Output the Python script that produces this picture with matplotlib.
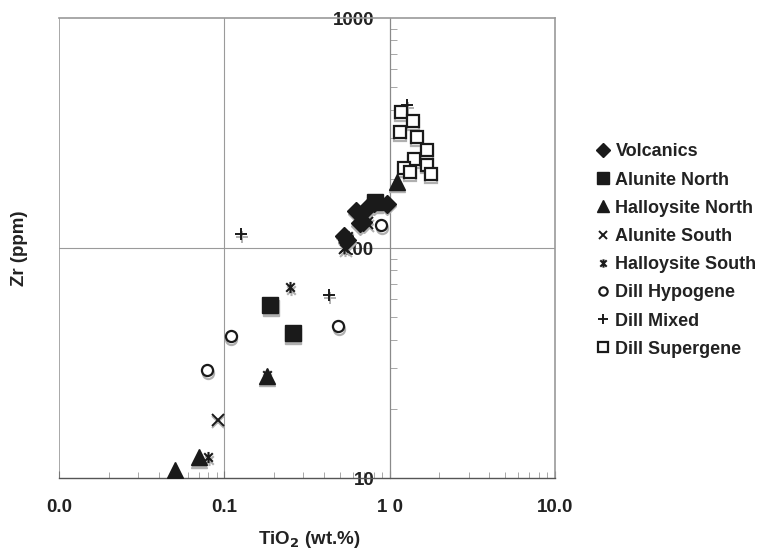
import matplotlib
matplotlib.use('Agg')
import matplotlib.pyplot as plt
import matplotlib.transforms as mtrans
from matplotlib.path import Path

plt.rcParams['font.family'] = ['Liberation Sans', 'DejaVu Sans']

# TiO2 (wt.%) and Zr (ppm)
volc_x = [0.53, 0.55, 0.63, 0.66, 0.69, 0.73, 0.80, 0.96]
volc_y = [113, 108, 145, 128, 130, 150, 157, 156]
aln_x = [0.19, 0.26, 0.81]
aln_y = [56.5, 42.7, 158]
hln_x = [0.050, 0.070, 0.18, 1.10]
hln_y = [10.8, 12.3, 27.8, 194]
als_x = [0.091, 0.54, 0.73]
als_y = [17.9, 100, 128]
hls_x = [0.080, 0.18, 0.25, 0.53, 0.56]
hls_y = [12.3, 28, 67.7, 100, 113]
hyp_x = [0.079, 0.109, 0.49, 0.89]
hyp_y = [29.5, 41.4, 45.8, 126]
mix_x = [0.127, 0.43, 1.28]
mix_y = [115, 62.5, 418]
sup_x = [1.17, 1.38, 1.15, 1.46, 1.68, 1.40, 1.22, 1.32, 1.68, 1.77]
sup_y = [390, 357, 319, 304, 267, 244, 223, 214, 230, 210]

# excel-style asterisk: an x with a vertical bar
star = Path([(-1, -1), (1, 1), (-1, 1), (1, -1), (0, -1.3), (0, 1.3)],
            [Path.MOVETO, Path.LINETO] * 3)

ink = '#1a1a1a'
series = [
    ('Volcanics', volc_x, volc_y, dict(marker='D', ms=9, mfc=ink, mec=ink)),
    ('Alunite North', aln_x, aln_y, dict(marker='s', ms=11, mfc=ink, mec=ink)),
    ('Halloysite North', hln_x, hln_y, dict(marker='^', ms=12, mfc=ink, mec=ink)),
    ('Alunite South', als_x, als_y, dict(marker='x', ms=8, mec=ink, mew=1.4)),
    ('Halloysite South', hls_x, hls_y, dict(marker=star, ms=8, mec=ink, mew=1.5)),
    ('Dill Hypogene', hyp_x, hyp_y, dict(marker='o', ms=8, mfc='white', mec=ink, mew=1.6)),
    ('Dill Mixed', mix_x, mix_y, dict(marker='+', ms=9, mec=ink, mew=1.4)),
    ('Dill Supergene', sup_x, sup_y, dict(marker='s', ms=9, mfc='white', mec=ink, mew=1.6)),
]

fig = plt.figure(figsize=(7.63, 5.52), dpi=100)
ax = fig.add_axes([0.0773, 0.134, 0.6501, 0.833])
ax.set_xscale('log')
ax.set_yscale('log')
ax.set_xlim(0.01, 10)
ax.set_ylim(10, 1000)

# gray drop shadow under each marker, as in the scanned figure
shadow = mtrans.offset_copy(ax.transData, fig=fig, x=0.5, y=-2.5, units='dots')
for name, xs, ys, st in series:
    sh = dict(st)
    sh['mec'] = '#b0b0b0'
    if sh.get('mfc') not in (None, 'white'):
        sh['mfc'] = '#b0b0b0'
    ax.plot(xs, ys, ls='none', transform=shadow, zorder=3, **sh)
for name, xs, ys, st in series:
    ax.plot(xs, ys, ls='none', zorder=4, **st)

# grid lines and box
ax.axvline(0.1, color='#9a9a9a', lw=0.8, zorder=1)
ax.axhline(100, color='#9a9a9a', lw=0.8, zorder=1)
ax.axvline(0.01, color='#9a9a9a', lw=1.2, zorder=1)
for s in ['top', 'right']:
    ax.spines[s].set_color('#9a9a9a')
    ax.spines[s].set_linewidth(1.2)
ax.spines['left'].set_position(('data', 1))
ax.spines['left'].set_color('#8a8a8a')
ax.spines['left'].set_linewidth(0.9)
ax.spines['bottom'].set_color('#555555')
ax.spines['bottom'].set_linewidth(1.0)

ax.set_xticks([0.01, 0.1, 1, 10])
ax.set_xticklabels(['0.0', '0.1', '1 0', '10.0'])
ax.set_yticks([10, 100, 1000])
ax.set_yticklabels(['10', '100', '1000'])
ax.tick_params(axis='x', which='major', direction='in', length=5, pad=15,
               labelsize=13.5, color='#777777')
ax.tick_params(axis='x', which='minor', direction='in', length=4, color='#999999')
ax.tick_params(axis='y', which='major', direction='in', length=0, pad=11,
               labelsize=13.5, color='#777777')
ax.tick_params(axis='y', which='minor', direction='in', length=5, color='#999999')
ax.yaxis.set_minor_formatter(matplotlib.ticker.NullFormatter())
ax.xaxis.set_minor_formatter(matplotlib.ticker.NullFormatter())
for t in ax.get_xticklabels() + ax.get_yticklabels():
    t.set_fontweight('bold')
    t.set_color('#222222')

fig.text(0.026, 0.55, 'Zr (ppm)', rotation=90, ha='center', va='center',
         fontsize=13.5, fontweight='bold', color='#222222')
fig.text(0.405, 0.022, 'TiO$_\\mathbf{2}$ (wt.%)', ha='center', va='center',
         fontsize=13.5, fontweight='bold', color='#222222')

leg_handles = []
for name, xs, ys, st in series:
    st2 = dict(st)
    st2['ms'] = st['ms'] * 0.75
    h, = ax.plot([], [], ls='none', label=name, **st2)
    leg_handles.append(h)
leg = fig.legend(handles=leg_handles, loc='center left', bbox_to_anchor=(0.783, 0.546),
                 frameon=False, borderpad=0, borderaxespad=0,
                 handlelength=0.6, handletextpad=0.4, labelspacing=0.62,
                 prop={'size': 13, 'weight': 'bold'})
for t in leg.get_texts():
    t.set_color('#222222')

fig.savefig('out.png', dpi=100)
